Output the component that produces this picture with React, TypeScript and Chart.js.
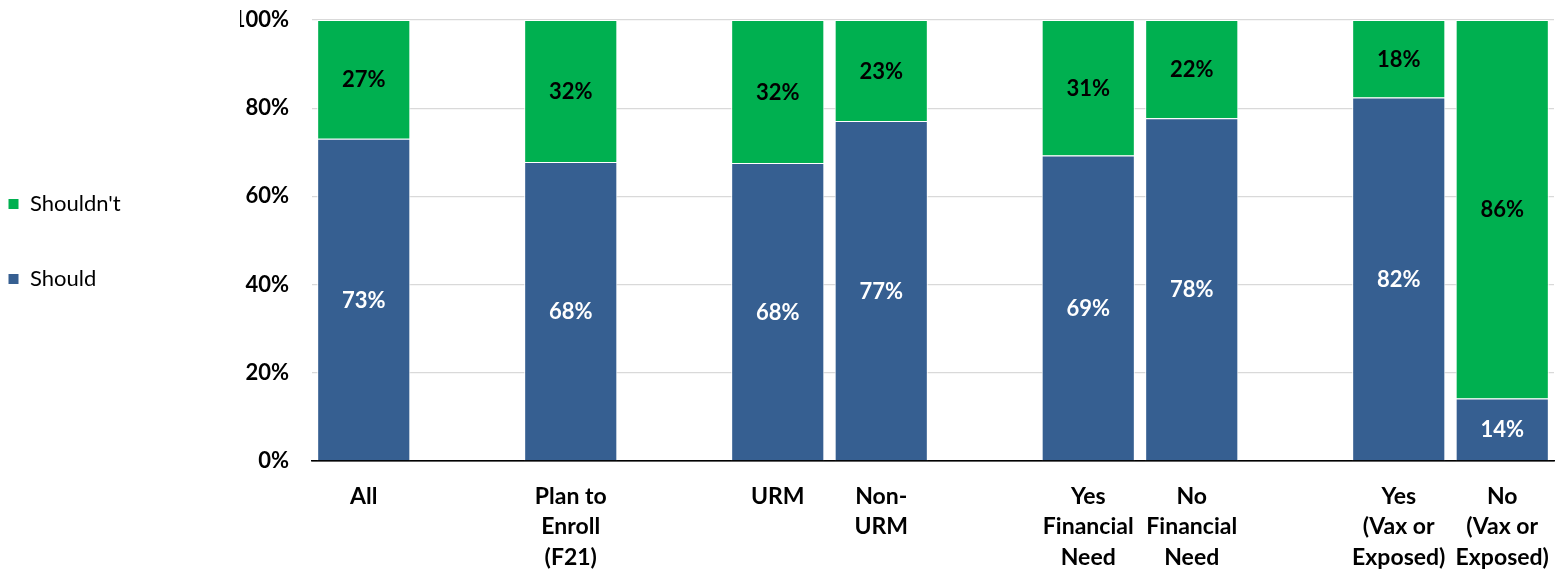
import React, { useEffect, useRef } from "react";
import { Chart, registerables } from "chart.js";

Chart.register(...registerables);

const categories: string[][] = [
  ["All"],
  [""],
  ["Plan to", "Enroll", "(F21)"],
  [""],
  ["URM"],
  ["Non-", "URM"],
  [""],
  ["Yes", "Financial", "Need"],
  ["No", "Financial", "Need"],
  [""],
  ["Yes", "(Vax or", "Exposed)"],
  ["No", "(Vax or", "Exposed)"],
];

const shouldValues: (number | null)[] = [73.1, null, 67.8, null, 67.6, 77.1, null, 69.3, 77.7, null, 82.4, 14.2];
const shouldntValues: (number | null)[] = [26.9, null, 32.2, null, 32.4, 22.9, null, 30.7, 22.3, null, 17.6, 85.8];

const seriesNames = ["Should", "Shouldn't"];
const seriesColors = ["#365F91", "#00B050"];
const labelColors = ["#FFFFFF", "#000000"];
const yTickValues = [0, 20, 40, 60, 80, 100];

const FONT = "Lato, 'Open Sans', sans-serif";

const segmentLabels = {
  id: "segmentLabels",
  afterDatasetsDraw(chart: any) {
    const ctx = chart.ctx;
    chart.data.datasets.forEach((ds: any, di: number) => {
      const meta = chart.getDatasetMeta(di);
      meta.data.forEach((bar: any, i: number) => {
        const v = ds.data[i];
        if (v == null) return;
        const { x, y, base } = bar.getProps(["x", "y", "base"], true);
        ctx.save();
        ctx.font = `bold 22px ${FONT}`;
        ctx.fillStyle = labelColors[di];
        ctx.textAlign = "center";
        ctx.textBaseline = "middle";
        ctx.fillText(`${Math.round(v)}%`, x, (y + base) / 2 + 1);
        ctx.restore();
      });
    });
  },
};

const LEGEND_PAD = 53;

const legendPlacement = {
  id: "legendPlacement",
  beforeInit(chart: any) {
    const legend = chart.legend;
    if (!legend) return;
    const origFit = legend.fit;
    legend.fit = function () {
      origFit.call(this);
      this.width = 240;
    };
  },
  afterLayout(chart: any) {
    const legend = chart.legend;
    if (!legend) return;
    const w = legend.right - legend.left;
    legend.left = 8 - LEGEND_PAD;
    legend.right = legend.left + w;
    const h = legend.bottom - legend.top;
    legend.top = 193 - LEGEND_PAD;
    legend.bottom = legend.top + h;
  },
};

const clearPadding = (scale: any) => {
  scale.paddingTop = 0;
  scale.paddingBottom = 0;
  scale.paddingLeft = 0;
  scale.paddingRight = 0;
};

export default function App() {
  const canvasRef = useRef<HTMLCanvasElement | null>(null);

  useEffect(() => {
    const canvas = canvasRef.current;
    if (!canvas) return;
    const chart = new Chart(canvas, {
      type: "bar",
      data: {
        labels: categories,
        datasets: [
          {
            label: seriesNames[0],
            data: shouldValues,
            backgroundColor: seriesColors[0],
            borderColor: "#FFFFFF",
            borderWidth: 1,
            barPercentage: 0.9,
            categoryPercentage: 1.0,
          },
          {
            label: seriesNames[1],
            data: shouldntValues,
            backgroundColor: seriesColors[1],
            borderColor: "#FFFFFF",
            borderWidth: 1,
            barPercentage: 0.9,
            categoryPercentage: 1.0,
          },
        ],
      },
      options: {
        responsive: false,
        animation: false,
        devicePixelRatio: 1,
        layout: { autoPadding: false, padding: { top: 20, right: 10, left: 0, bottom: 0 } },
        plugins: {
          tooltip: { enabled: false },
          legend: {
            position: "left",
            align: "start",
            reverse: true,
            labels: {
              boxWidth: 11,
              boxHeight: 11,
              padding: LEGEND_PAD,
              color: "#000000",
              font: { family: FONT, size: 22, weight: "normal" },
            },
          },
        },
        scales: {
          x: {
            stacked: true,
            grid: { display: false, drawTicks: false },
            border: { display: true, color: "#000000", width: 1.5 },
            ticks: {
              autoSkip: false,
              maxRotation: 0,
              minRotation: 0,
              padding: 20,
              color: "#000000",
              font: { family: FONT, size: 23, weight: "bold", lineHeight: 1.33 },
            },
            afterFit(scale: any) {
              scale.height = 120;
              clearPadding(scale);
            },
          },
          y: {
            stacked: true,
            min: 0,
            max: 100,
            afterBuildTicks(scale: any) {
              scale.ticks = yTickValues.map((v) => ({ value: v }));
            },
            grid: {
              drawTicks: false,
              color: (c: any) => (c.tick && c.tick.value === 0 ? "#000000" : "#D9D9D9"),
              lineWidth: 1.3,
            },
            border: { display: false },
            ticks: {
              padding: 23,
              color: "#000000",
              font: { family: FONT, size: 22, weight: "bold" },
              callback: (v: any) => `${v}%`,
            },
            afterFit(scale: any) {
              scale.width = 72;
              clearPadding(scale);
            },
          },
        },
      },
      plugins: [legendPlacement, segmentLabels],
    } as any);
    return () => chart.destroy();
  }, []);

  return (
    <div style={{ position: "absolute", left: 0, top: 0, width: 1564, height: 581, background: "#FFFFFF" }}>
      <canvas ref={canvasRef} width={1564} height={581} />
    </div>
  );
}
